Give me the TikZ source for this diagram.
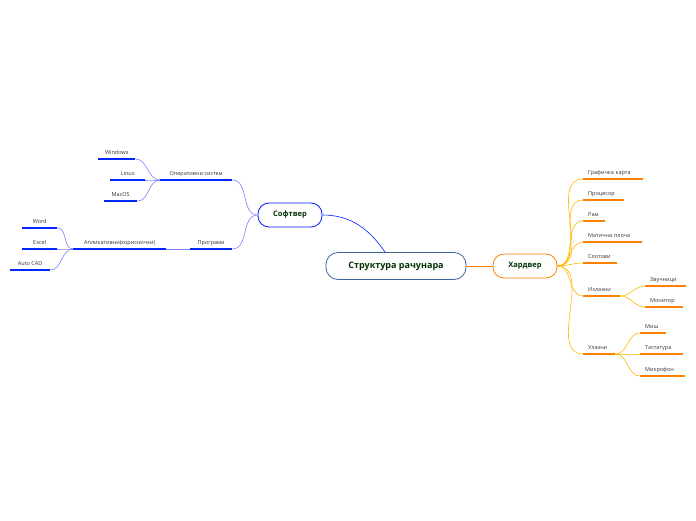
\documentclass[tikz,border=0pt]{standalone}
\usepackage{fontspec}
\setmainfont{Open Sans}
\begin{document}
\begin{tikzpicture}[
  x=1pt, y=-1pt,
  font=\fontsize{5.5}{6.5}\selectfont,
  root/.style={draw=cyan!50!blue!70!black, thick, rounded corners=12pt, fill=white,
    minimum width=140pt, minimum height=27pt, text=green!20!black,
    font=\fontsize{9}{10}\selectfont\bfseries},
  mainS/.style={draw=blue!90!cyan, thick, rounded corners=11pt, fill=white,
    minimum width=64pt, minimum height=24pt, text=green!20!black,
    font=\fontsize{7.5}{8}\selectfont\bfseries},
  mainH/.style={mainS, draw=orange},
  sleaf/.style={anchor=south west, inner sep=0pt, minimum height=12pt, text=black!80,
    append after command={(\tikzlastnode.south west) edge[line width=1.5pt, blue!85!cyan] (\tikzlastnode.south east)}},
  hleaf/.style={sleaf, align=left, inner xsep=5pt,
    append after command={(\tikzlastnode.south west) edge[line width=1.5pt, orange] (\tikzlastnode.south east)}},
  sline/.style={blue!50!white, semithick},
  hline/.style={orange!55!yellow, semithick}]

  \useasboundingbox (0,0) rectangle (696,520);

  % main nodes
  \node[root] (root) at (396,266) {Структура рачунара};
  \node[mainS] (soft) at (290,215) {Софтвер};
  \node[mainH] (hard) at (525,266) {Хардвер};

  \draw[blue!90!cyan, semithick] (root.128) to[out=125,in=0] (soft.east);
  \draw[orange, semithick] (root.east) -- (hard.west);

  % software branch
  \node[sleaf, minimum width=72pt] (os) at (160,180) {Оперативни систем};
  \node[sleaf, minimum width=42pt] (prog) at (190,249) {Програми};
  \node[sleaf, minimum width=93pt] (apl) at (73,249) {Апликативни(кориснички)};
  \node[sleaf, minimum width=37pt] (win) at (98,159) {Windows};
  \node[sleaf, minimum width=35pt] (linux) at (110,180) {Linux};
  \node[sleaf, minimum width=33pt] (mac) at (104,201) {MacOS};
  \node[sleaf, minimum width=35pt] (word) at (22,228) {Word};
  \node[sleaf, minimum width=35pt] (excel) at (22,249) {Excel};
  \node[sleaf, minimum width=40pt] (cad) at (10,270) {Auto CAD};

  \draw[sline] (soft.west) to[out=180,in=0] (os.south east);
  \draw[sline] (soft.west) to[out=180,in=0] (prog.south east);
  \draw[sline] (prog.south west) -- (apl.south east);
  \foreach \n in {win,linux,mac}
    \draw[sline] (os.south west) to[out=180,in=0] (\n.south east);
  \foreach \n in {word,excel,cad}
    \draw[sline] (apl.south west) to[out=180,in=0] (\n.south east);

  % hardware branch
  \node[hleaf, text width=50pt] (gpu) at (583,179) {Графичка карта};
  \node[hleaf, text width=31pt] (cpu) at (583,200) {Процесор};
  \node[hleaf, text width=12pt] (ram) at (583,221) {Рам};
  \node[hleaf, text width=49pt] (mb) at (583,242) {Матична плоча};
  \node[hleaf, text width=24pt] (slot) at (583,263) {Слотови};
  \node[hleaf, text width=27pt] (out) at (583,296) {Излазни};
  \node[hleaf, text width=22pt] (in) at (583,354) {Улазни};
  \node[hleaf, text width=31pt] (spk) at (645,286) {Звучници};
  \node[hleaf, text width=28pt] (mon) at (645,307) {Монитор};
  \node[hleaf, text width=16pt] (mouse) at (640,333) {Миш};
  \node[hleaf, text width=33pt] (kbd) at (640,354) {Тастатура};
  \node[hleaf, text width=35pt] (mic) at (640,376) {Микрофон};

  \foreach \n in {gpu,cpu,ram,mb,slot,out,in}
    \draw[hline] (hard.east) to[out=0,in=180] (\n.south west);
  \foreach \n in {spk,mon}
    \draw[hline] (out.south east) to[out=0,in=180] (\n.south west);
  \foreach \n in {mouse,kbd,mic}
    \draw[hline] (in.south east) to[out=0,in=180] (\n.south west);
\end{tikzpicture}
\end{document}
